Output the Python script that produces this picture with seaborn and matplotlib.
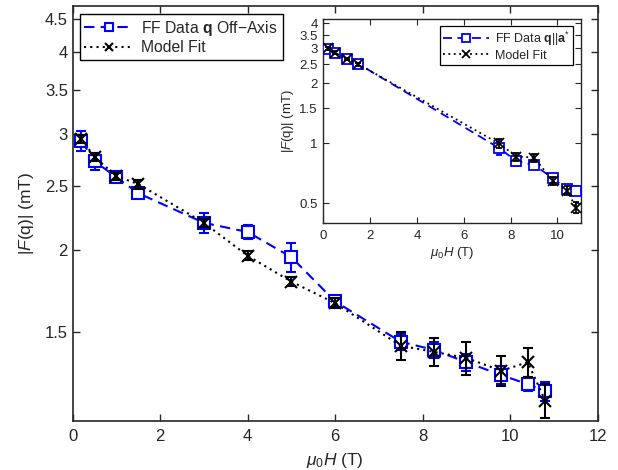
import numpy as np
import pandas as pd
import matplotlib
matplotlib.use("Agg")
import matplotlib.pyplot as plt
import seaborn as sns

# ---------------- data ----------------
field = [0.2, 0.5, 1.0, 1.5, 3.0, 4.0, 5.0, 6.0, 7.5, 8.25, 9.0, 9.8, 10.4, 10.8]
ff_off = [2.93, 2.73, 2.58, 2.44, 2.20, 2.13, 1.95, 1.67, 1.45, 1.41, 1.35, 1.29, 1.25, 1.22]
ff_off_err = [0.10, 0.08, 0.04, 0.04, 0.08, 0.05, 0.10, 0.03, 0.04, 0.04, 0.04, 0.04, 0.03, 0.04]
fit_off = [2.95, 2.77, 2.59, 2.52, 2.20, 1.96, 1.79, 1.66, 1.43, 1.40, 1.37, 1.31, 1.35, 1.18]
fit_off_err = [0.04, 0.04, 0.03, 0.04, 0.03, 0.03, 0.03, 0.03, 0.07, 0.07, 0.08, 0.07, 0.07, 0.07]

field_in = [0.2, 0.5, 1.0, 1.5, 7.5, 8.25, 9.0, 9.8, 10.4, 10.8]
ff_a = [2.98, 2.83, 2.66, 2.51, 0.95, 0.815, 0.78, 0.67, 0.59, 0.58]
ff_a_err = [0.05, 0.05, 0.04, 0.04, 0.07, 0.04, 0.03, 0.03, 0.03, 0.03]
fit_a = [3.00, 2.85, 2.66, 2.50, 1.00, 0.86, 0.85, 0.65, 0.58, 0.476]
fit_a_err = [0.05, 0.05, 0.04, 0.04, 0.05, 0.04, 0.04, 0.03, 0.03, 0.03]

main_yticks = [1.5, 2, 2.5, 3, 3.5, 4, 4.5]
main_ylabels = ["1.5", "2", "2.5", "3", "3.5", "4", "4.5"]
inset_yticks = [0.5, 1, 1.5, 2, 2.5, 3, 3.5, 4]
inset_ylabels = ["0.5", "1", "1.5", "2", "2.5", "3", "3.5", "4"]

# ---------------- style ----------------
sns.set_style("ticks")
plt.rcParams["font.family"] = ["Liberation Sans", "DejaVu Sans"]
plt.rcParams["mathtext.fontset"] = "custom"
plt.rcParams["mathtext.rm"] = "Liberation Sans"
plt.rcParams["mathtext.it"] = "Liberation Sans:italic"
plt.rcParams["mathtext.bf"] = "Liberation Sans:bold"
plt.rcParams["xtick.direction"] = "in"
plt.rcParams["ytick.direction"] = "in"

BLUE = "#0000ff"
DASH = (0, (5, 3))
DOT = (0, (1, 2))

fig = plt.figure(figsize=(6.18, 4.70), dpi=100)
ax = fig.add_axes([0.1176, 0.105, 0.8495, 0.882])
axi = fig.add_axes([0.523, 0.526, 0.417, 0.433])


def draw(a, x, y1, e1, y2, e2, ms, lw, cap):
    d1 = pd.DataFrame({"x": x, "y": y1})
    d2 = pd.DataFrame({"x": x, "y": y2})
    a.errorbar(x, y1, yerr=e1, fmt="none", ecolor=BLUE, elinewidth=lw,
               capsize=cap, capthick=lw, zorder=2)
    sns.lineplot(data=d1, x="x", y="y", ax=a, color=BLUE, linestyle=DASH,
                 linewidth=lw, marker="s", markersize=ms, markerfacecolor="white",
                 markeredgecolor=BLUE, markeredgewidth=lw, zorder=3)
    l1 = a.lines[-1]
    a.errorbar(x, y2, yerr=e2, fmt="none", ecolor="black", elinewidth=lw,
               capsize=cap, capthick=lw, zorder=4)
    sns.lineplot(data=d2, x="x", y="y", ax=a, color="black", linestyle=DOT,
                 linewidth=lw, marker="x", markersize=ms, markeredgecolor="black",
                 markeredgewidth=lw, zorder=5)
    l2 = a.lines[-1]
    return l1, l2


h1, h2 = draw(ax, field, ff_off, ff_off_err, fit_off, fit_off_err, 8, 1.5, 3.5)
ax.set_yscale("log")
ax.set_xlim(0, 12)
ax.set_ylim(1.1, 4.7)
ax.set_xticks([0, 2, 4, 6, 8, 10, 12])
ax.set_yticks(main_yticks, labels=main_ylabels)
ax.yaxis.set_minor_locator(matplotlib.ticker.NullLocator())
ax.tick_params(which="both", top=True, right=True, labelsize=12, length=5, width=1)
ax.tick_params(axis="x", pad=6)
ax.set_xlabel(r"$\mu_0H$ (T)", fontsize=12.5, labelpad=5)
ax.set_ylabel(r"|$F$(q)| (mT)", fontsize=12.5, labelpad=6)
for s in ax.spines.values():
    s.set_linewidth(1.2)
    s.set_visible(True)
leg = ax.legend([h1, h2], [r"FF Data $\mathbf{q}$ Off−Axis", "Model Fit"],
                loc="upper left", bbox_to_anchor=(0.013, 0.981), fontsize=11.3,
                handlelength=3.2, frameon=True, fancybox=False, framealpha=1,
                edgecolor="black", borderpad=0.3, labelspacing=0.15,
                handletextpad=0.45, borderaxespad=0.0, markerscale=0.8)
leg.get_frame().set_linewidth(1.0)

g1, g2 = draw(axi, field_in, ff_a, ff_a_err, fit_a, fit_a_err, 6.5, 1.3, 2.5)
axi.set_yscale("log")
axi.set_xlim(0, 11)
axi.set_ylim(0.4, 4.2)
axi.set_xticks([0, 2, 4, 6, 8, 10])
axi.set_yticks(inset_yticks, labels=inset_ylabels)
axi.yaxis.set_minor_locator(matplotlib.ticker.NullLocator())
axi.tick_params(which="both", top=True, right=True, labelsize=9.5, length=4, width=0.8, pad=4)
axi.tick_params(axis="x", pad=5)
axi.set_xlabel(r"$\mu_0H$ (T)", fontsize=9.5, labelpad=2)
axi.set_ylabel(r"|$F$(q)| (mT)", fontsize=9.5, labelpad=2)
for s in axi.spines.values():
    s.set_linewidth(1.0)
    s.set_visible(True)
legi = axi.legend([g1, g2], [r"FF Data $\mathbf{q}$||$\mathbf{a}^{*}$", "Model Fit"],
                  loc="upper right", bbox_to_anchor=(0.97, 0.965), fontsize=9,
                  handlelength=3.7, frameon=True, fancybox=False, framealpha=1,
                  edgecolor="black", borderpad=0.25, labelspacing=0.15,
                  handletextpad=0.45, borderaxespad=0.0, markerscale=0.8)
legi.get_frame().set_linewidth(0.9)

fig.savefig("out.png", dpi=100)
